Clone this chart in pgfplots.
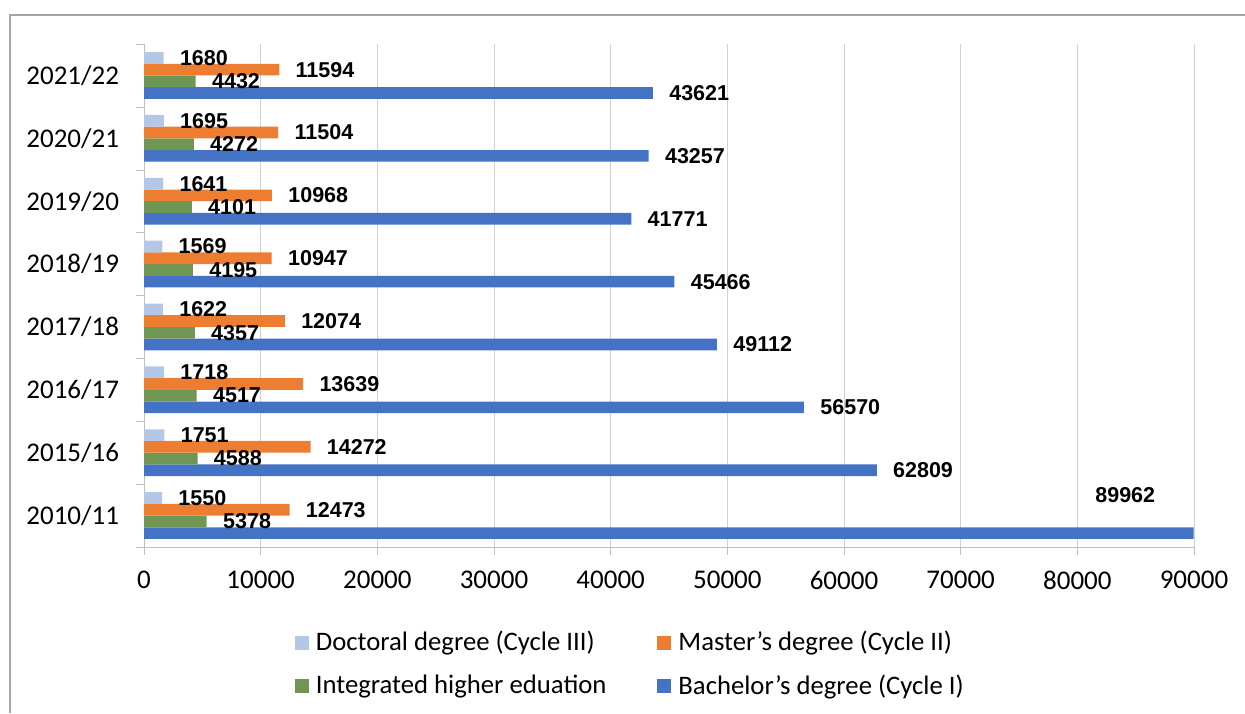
\documentclass[border=0pt]{standalone}
\usepackage{fontspec}
\setmainfont{Carlito}
\newfontfamily\labelfont{Liberation Sans}
\usepackage{pgfplots}
\usepackage{pgfplotstable}
\pgfplotsset{compat=1.18}

\definecolor{docblue}{HTML}{B4C7E7}
\definecolor{masorange}{HTML}{ED7D31}
\definecolor{intgreen}{HTML}{709654}
\definecolor{bachblue}{HTML}{4472C4}

% y: 0 = 2010/11 ... 7 = 2021/22
\pgfplotstableread{
y x dx dy
0 89962 -57.3 19
1 62809 0 0
2 56570 0 0
3 49112 0 0
4 45466 0 0
5 41771 0 0
6 43257 0 0
7 43621 0 0
}\bach
\pgfplotstableread{
y x
0 5378
1 4588
2 4517
3 4357
4 4195
5 4101
6 4272
7 4432
}\integ
\pgfplotstableread{
y x
0 12473
1 14272
2 13639
3 12074
4 10947
5 10968
6 11504
7 11594
}\mast
\pgfplotstableread{
y x
0 1550
1 1751
2 1718
3 1622
4 1569
5 1641
6 1695
7 1680
}\doct

\begin{document}
\begin{tikzpicture}
\useasboundingbox (0,0) rectangle (622.5pt,356.5pt);
\begin{axis}[
    at={(72pt,83pt)}, anchor=south west,
    scale only axis, width=525pt, height=251.5pt,
    xbar, bar width=5.85pt,
    xmin=0, xmax=90000, ymin=-0.5, ymax=7.5,
    xtick={0,10000,...,90000},
    ytick={-0.5,0.5,...,7.5},
    y tick label as interval,
    yticklabels={2010/11,2015/16,2016/17,2017/18,2018/19,2019/20,2020/21,2021/22},
    axis x line*=bottom, axis y line*=left,
    axis line style={draw=black!25},
    tick align=outside, major tick length=4pt,
    tick style={draw=black!25},
    xmajorgrids, grid style={draw=black!18},
    scaled x ticks=false,
    /pgf/number format/1000 sep={},
    /pgf/number format/assume math mode=true,
    tick label style={font=\fontsize{13.5}{16}\selectfont},
    xticklabel style={yshift=-4.5pt},
    yticklabel style={xshift=-5pt},
    point meta=x,
    nodes near coords,
    every node near coord/.append style={font=\labelfont\bfseries\fontsize{10.75}{12}\selectfont,
        anchor=west, inner sep=0pt, xshift=8pt},
    legend columns=2, reverse legend,
    legend cell align=left,
    legend image code/.code={\fill[#1] (0pt,-3.5pt) rectangle (7pt,3.5pt); \path (8.5pt,0pt);},
    legend style={draw=none, fill=none, at={(0.1376,-0.151)}, anchor=north west,
        font=\fontsize{13.35}{15}\selectfont, row sep=6.5pt,
        /tikz/every even column/.append style={column sep=23.5pt}},
]
\addplot[fill=bachblue, draw=none, bar shift=-8.775pt,
    visualization depends on={\thisrow{dx} \as \lblx},
    visualization depends on={\thisrow{dy} \as \lbly},
    nodes near coords style={xshift=\lblx*1pt, yshift=\lbly*1pt}]
    table[x=x, y=y] {\bach};
\addlegendentry{Bachelor’s degree (Cycle I)}
\addplot[fill=intgreen, draw=none, bar shift=-2.925pt] table[x=x, y=y] {\integ};
\addlegendentry{Integrated higher eduation}
\addplot[fill=masorange, draw=none, bar shift=2.925pt] table[x=x, y=y] {\mast};
\addlegendentry{Master’s degree (Cycle II)}
\addplot[fill=docblue, draw=none, bar shift=8.775pt] table[x=x, y=y] {\doct};
\addlegendentry{Doctoral degree (Cycle III)}
\end{axis}
\draw[black!35, line width=0.6pt] (5pt,0) -- (5pt,349pt) -- (622.5pt,349pt);
\end{tikzpicture}
\end{document}
